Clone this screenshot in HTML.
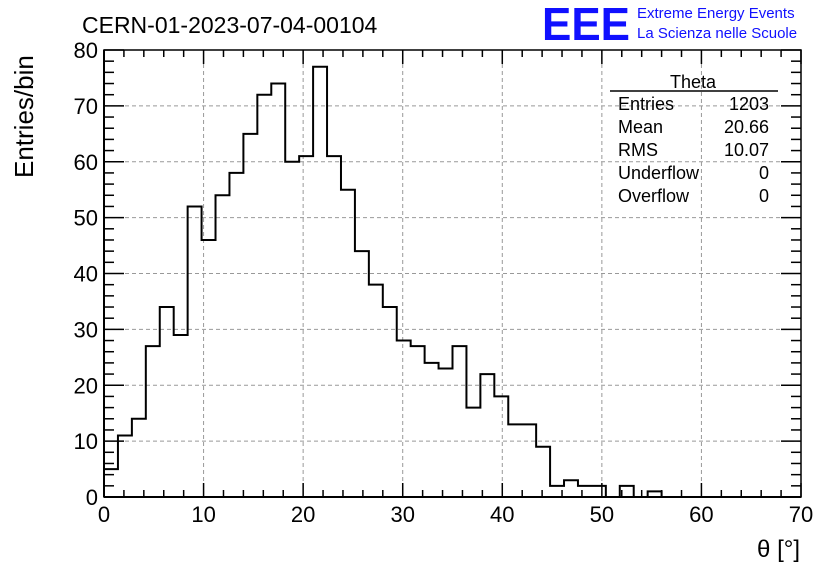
<!DOCTYPE html>
<html><head><meta charset="utf-8"><style>
body{margin:0;background:#fff;width:836px;height:572px;overflow:hidden;font-family:"Liberation Sans",sans-serif}
</style></head><body>
<svg width="836" height="572" xmlns="http://www.w3.org/2000/svg" font-family="Liberation Sans, sans-serif">
<rect width="836" height="572" fill="#fff"/>
<text x="82" y="33" font-size="23">CERN-01-2023-07-04-00104</text>
<text x="542" y="40" font-size="46" fill="#1010ff" font-weight="bold" textLength="88" lengthAdjust="spacingAndGlyphs">EEE</text>
<text x="637" y="18" font-size="15" fill="#1010ff">Extreme Energy Events</text>
<text x="637" y="38" font-size="15" fill="#1010ff">La Scienza nelle Scuole</text>
<g id="grid"></g>
<g id="hist"></g>
<g id="axes"></g>
<text x="33" y="178" font-size="26" transform="rotate(-90 33 178)" text-anchor="start">Entries/bin</text>
<text x="800" y="557" font-size="24" text-anchor="end">θ [°]</text>
<g font-size="18">
<text x="693" y="88" text-anchor="middle">Theta</text>
<line x1="610" y1="91" x2="778" y2="91" stroke="#000" stroke-width="1.5"/>
<text x="618" y="110">Entries</text><text x="769" y="110" text-anchor="end">1203</text>
<text x="618" y="133">Mean</text><text x="769" y="133" text-anchor="end">20.66</text>
<text x="618" y="156">RMS</text><text x="769" y="156" text-anchor="end">10.07</text>
<text x="618" y="179">Underflow</text><text x="769" y="179" text-anchor="end">0</text>
<text x="618" y="202">Overflow</text><text x="769" y="202" text-anchor="end">0</text>
</g>
</svg>
<script>
const counts=[5,11,14,27,34,29,52,46,54,58,65,72,74,60,61,77,61,55,44,38,34,28,27,24,23,27,16,22,18,13,13,9,2,3,2,2,0,2,0,1,0,0,0,0,0,0,0,0,0,0];
const xTicks=[0,10,20,30,40,50,60,70];
const yTicks=[0,10,20,30,40,50,60,70,80];
const binWidth=1.4;
const X0=104,X1=801,Y0=497,Y1=50;
const sx=v=>X0+(v/70)*(X1-X0);
const sy=v=>Y0-(v/80)*(Y0-Y1);
const NS="http://www.w3.org/2000/svg";
function mk(t,a,p){const e=document.createElementNS(NS,t);for(const k in a)e.setAttribute(k,a[k]);p.appendChild(e);return e;}
const grid=document.getElementById('grid'),axes=document.getElementById('axes'),hist=document.getElementById('hist');
xTicks.forEach(v=>{if(v>0&&v<70){const l=mk('line',{x1:sx(v),x2:sx(v),y1:Y1,y2:Y0,stroke:'#999','stroke-dasharray':'4,3'},grid);

}});
yTicks.forEach(v=>{if(v>0&&v<80){const l=mk('line',{x1:X0,x2:X1,y1:sy(v),y2:sy(v),stroke:'#999','stroke-dasharray':'4,3'},grid);

}});
let d='M'+sx(0)+','+sy(0);
counts.forEach((c,i)=>{d+=' L'+sx(i*binWidth)+','+sy(c)+' L'+sx((i+1)*binWidth)+','+sy(c);});
d+=' L'+sx(counts.length*binWidth)+','+sy(0);
const p=mk('path',{d:d,fill:'none',stroke:'#000','stroke-width':2},hist);


mk('rect',{x:X0,y:Y1,width:X1-X0,height:Y0-Y1,fill:'none',stroke:'#000','stroke-width':1.5},axes);
mk('line',{x1:X0,x2:X1,y1:Y0,y2:Y0,stroke:'#000','stroke-width':2},axes);
mk('line',{x1:X0,x2:X0,y1:Y1,y2:Y0,stroke:'#000','stroke-width':2},axes);
for(let v=0;v<=70;v+=2){const big=v%10===0;mk('line',{x1:sx(v),x2:sx(v),y1:Y0,y2:Y0-(big?14:7),stroke:'#000','stroke-width':1.5},axes);mk('line',{x1:sx(v),x2:sx(v),y1:Y1,y2:Y1+(big?14:7),stroke:'#000','stroke-width':1.5},axes);}
for(let v=0;v<=80;v+=2){const big=v%10===0;mk('line',{x1:X0,x2:X0+(big?20:10),y1:sy(v),y2:sy(v),stroke:'#000','stroke-width':1.5},axes);mk('line',{x1:X1,x2:X1-(big?20:10),y1:sy(v),y2:sy(v),stroke:'#000','stroke-width':1.5},axes);}
xTicks.forEach(v=>{const t=mk('text',{x:sx(v),y:522,'font-size':22,'text-anchor':'middle'},axes);t.textContent=v;

});
yTicks.forEach(v=>{const t=mk('text',{x:98,y:sy(v)+8,'font-size':22,'text-anchor':'end'},axes);t.textContent=v;

});
</script>
</body></html>
